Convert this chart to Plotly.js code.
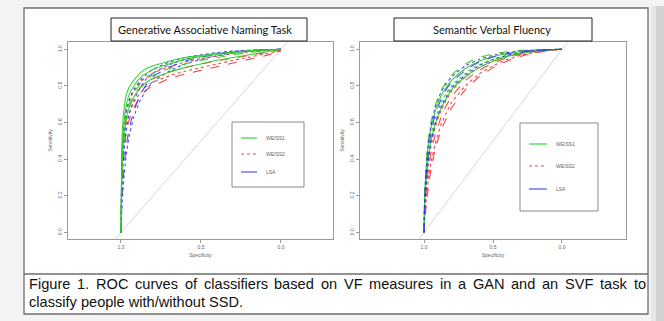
<!DOCTYPE html>
<html>
<head>
<meta charset="utf-8">
<script src="https://cdn.plot.ly/plotly-3.0.1.min.js"></script>
<style>html,body{margin:0;padding:0;background:#f3f3f3;}#chart{width:664px;height:321px;}</style>
</head>
<body>
<div id="chart"></div>
<script>
// Specificity grid shared by all curves
const specificity = [1.0, 0.995, 0.99, 0.98, 0.97, 0.95, 0.92, 0.88, 0.84, 0.8, 0.7, 0.6, 0.5, 0.4, 0.3, 0.2, 0.1, 0.0];

// Generative Associative Naming task (left panel) sensitivities
const ganWeiss1 = [
  [0, 0.45, 0.58, 0.68, 0.74, 0.79, 0.83, 0.87, 0.895, 0.91, 0.935, 0.955, 0.967, 0.977, 0.985, 0.992, 0.997, 1.0],
  [0, 0.38, 0.50, 0.61, 0.68, 0.75, 0.80, 0.845, 0.87, 0.89, 0.92, 0.945, 0.96, 0.972, 0.982, 0.99, 0.996, 1.0],
  [0, 0.30, 0.42, 0.55, 0.62, 0.70, 0.76, 0.81, 0.84, 0.86, 0.895, 0.92, 0.94, 0.955, 0.97, 0.982, 0.992, 1.0],
  [0, 0.28, 0.40, 0.52, 0.60, 0.68, 0.74, 0.79, 0.82, 0.84, 0.875, 0.90, 0.92, 0.94, 0.955, 0.97, 0.985, 1.0]
];
const ganWeiss2 = [
  [0, 0.35, 0.47, 0.58, 0.65, 0.72, 0.77, 0.82, 0.85, 0.87, 0.905, 0.93, 0.95, 0.963, 0.975, 0.985, 0.993, 1.0],
  [0, 0.30, 0.42, 0.54, 0.61, 0.68, 0.74, 0.79, 0.82, 0.84, 0.875, 0.90, 0.92, 0.937, 0.952, 0.967, 0.982, 0.995],
  [0, 0.26, 0.37, 0.49, 0.57, 0.65, 0.71, 0.76, 0.80, 0.82, 0.855, 0.88, 0.90, 0.92, 0.94, 0.957, 0.975, 0.99],
  [0, 0.22, 0.33, 0.45, 0.53, 0.61, 0.68, 0.74, 0.78, 0.80, 0.84, 0.865, 0.885, 0.905, 0.925, 0.945, 0.965, 0.99]
];
const ganLSA = [
  [0, 0.30, 0.42, 0.55, 0.63, 0.72, 0.78, 0.83, 0.865, 0.89, 0.93, 0.955, 0.97, 0.982, 0.99, 0.995, 0.998, 1.0],
  [0, 0.22, 0.33, 0.45, 0.54, 0.64, 0.72, 0.79, 0.84, 0.87, 0.915, 0.945, 0.965, 0.978, 0.988, 0.994, 0.998, 1.0],
  [0, 0.15, 0.24, 0.36, 0.45, 0.56, 0.66, 0.75, 0.81, 0.85, 0.90, 0.935, 0.957, 0.973, 0.985, 0.993, 0.998, 1.0],
  [0, 0.12, 0.20, 0.31, 0.40, 0.52, 0.63, 0.72, 0.78, 0.82, 0.88, 0.92, 0.945, 0.965, 0.98, 0.99, 0.997, 1.0]
];

// Semantic Verbal Fluency task (right panel) sensitivities
const svfWeiss1 = [
  [0, 0.22, 0.30, 0.42, 0.50, 0.60, 0.69, 0.77, 0.82, 0.86, 0.92, 0.955, 0.975, 0.987, 0.994, 0.997, 0.999, 1.0],
  [0, 0.20, 0.28, 0.39, 0.47, 0.57, 0.66, 0.74, 0.79, 0.83, 0.895, 0.935, 0.96, 0.976, 0.987, 0.994, 0.998, 1.0],
  [0, 0.18, 0.25, 0.35, 0.43, 0.53, 0.62, 0.70, 0.76, 0.80, 0.87, 0.915, 0.945, 0.965, 0.98, 0.99, 0.997, 1.0],
  [0, 0.15, 0.22, 0.32, 0.40, 0.50, 0.59, 0.67, 0.73, 0.78, 0.85, 0.90, 0.935, 0.96, 0.977, 0.988, 0.996, 1.0]
];
const svfWeiss2 = [
  [0, 0.15, 0.21, 0.30, 0.37, 0.47, 0.57, 0.66, 0.72, 0.77, 0.85, 0.90, 0.935, 0.96, 0.977, 0.989, 0.996, 1.0],
  [0, 0.11, 0.17, 0.26, 0.33, 0.43, 0.53, 0.62, 0.69, 0.74, 0.83, 0.885, 0.925, 0.953, 0.973, 0.987, 0.995, 1.0],
  [0, 0.08, 0.13, 0.21, 0.28, 0.38, 0.48, 0.58, 0.65, 0.71, 0.80, 0.865, 0.91, 0.943, 0.967, 0.983, 0.994, 1.0],
  [0, 0.06, 0.10, 0.18, 0.24, 0.34, 0.45, 0.55, 0.62, 0.68, 0.78, 0.85, 0.90, 0.935, 0.962, 0.98, 0.993, 1.0]
];
const svfLSA = [
  [0, 0.20, 0.28, 0.40, 0.48, 0.58, 0.68, 0.76, 0.81, 0.85, 0.91, 0.945, 0.968, 0.982, 0.991, 0.996, 0.999, 1.0],
  [0, 0.17, 0.24, 0.35, 0.43, 0.54, 0.64, 0.72, 0.78, 0.82, 0.885, 0.93, 0.958, 0.975, 0.987, 0.994, 0.998, 1.0],
  [0, 0.13, 0.20, 0.30, 0.38, 0.49, 0.59, 0.68, 0.74, 0.79, 0.86, 0.91, 0.945, 0.967, 0.982, 0.991, 0.997, 1.0]
];

const diagSpec = [1.1, -0.1];
const diagSens = [-0.1, 1.1];

const legendLabels = ['WEISS1', 'WEISS2', 'LSA'];
const panelTitles = ['Generative Associative Naming Task', 'Semantic Verbal Fluency'];
const yTicks = [0, 0.2, 0.4, 0.6, 0.8, 1.0];
const yTickText = ['0.0', '0.2', '0.4', '0.6', '0.8', '1.0'];
const xTicks = [1.0, 0.5, 0.0];
const xTickText = ['1.0', '0.5', '0.0'];
const caption1 = 'Figure 1. ROC curves of classifiers based on VF measures in a GAN and an SVF task to';
const caption2 = 'classify people with/without SSD.';

const W = 664, H = 321;
const px = v => v / W;
const py = v => 1 - v / H;

const GREEN = 'rgba(40,205,40,0.9)';
const RED = 'rgba(240,40,40,0.85)';
const BLUE = 'rgba(50,50,240,0.85)';

const traces = [];
function addSet(sets, color, dashes, xa, ya) {
  sets.forEach((s, i) => {
    traces.push({x: specificity, y: s, type: 'scatter', mode: 'lines', xaxis: xa, yaxis: ya,
      line: {color: color, width: 1.1, dash: dashes[i % dashes.length], shape: 'spline', smoothing: 0.6},
      hoverinfo: 'skip', showlegend: false});
  });
}
traces.push({x: diagSpec, y: diagSens, type: 'scatter', mode: 'lines', xaxis: 'x', yaxis: 'y', line: {color: '#d6d6d6', width: 1}, showlegend: false, hoverinfo: 'skip'});
traces.push({x: diagSpec, y: diagSens, type: 'scatter', mode: 'lines', xaxis: 'x2', yaxis: 'y2', line: {color: '#d6d6d6', width: 1}, showlegend: false, hoverinfo: 'skip'});

addSet(ganWeiss2, RED, ['dot', 'dash', 'dot', 'dash'], 'x', 'y');
addSet(ganLSA, BLUE, ['dot', 'dot', 'dash', 'dot'], 'x', 'y');
addSet(ganWeiss1, GREEN, ['solid', 'solid', 'dash', 'solid'], 'x', 'y');

addSet(svfWeiss2, RED, ['dot', 'dash', 'dot', 'dash'], 'x2', 'y2');
addSet(svfWeiss1, GREEN, ['dash', 'solid', 'dot', 'solid'], 'x2', 'y2');
addSet(svfLSA, BLUE, ['dot', 'dash', 'dot'], 'x2', 'y2');

const smallFont = {family: 'Liberation Sans, Arial, sans-serif', size: 5, color: '#666'};
function xAxis(domain, range, anchor) {
  return {domain: domain, range: range, anchor: anchor, tickvals: xTicks, ticktext: xTickText,
    showgrid: false, zeroline: false, showline: true, mirror: true, linecolor: '#9a9a9a', linewidth: 1,
    ticks: 'outside', ticklen: 3, tickcolor: '#9a9a9a', tickfont: smallFont,
    title: {text: 'Specificity', font: smallFont, standoff: 4}};
}
function yAxis(domain, anchor) {
  return {domain: domain, range: [-0.036, 1.04], anchor: anchor, tickvals: yTicks, ticktext: yTickText, tickangle: -90,
    showgrid: false, zeroline: false, showline: true, mirror: true, linecolor: '#9a9a9a', linewidth: 1,
    ticks: 'outside', ticklen: 3, tickcolor: '#9a9a9a', tickfont: smallFont,
    title: {text: 'Sensitivity', font: smallFont, standoff: 4}};
}

const shapes = [
  {type: 'rect', xref: 'paper', yref: 'paper', x0: px(651), x1: px(656), y0: 0, y1: py(6), fillcolor: '#e6e6e6', line: {width: 0}, layer: 'below'},
  {type: 'rect', xref: 'paper', yref: 'paper', x0: px(656), x1: 1, y0: 0, y1: py(6), fillcolor: '#d2d2d2', line: {width: 0}, layer: 'below'},
  {type: 'rect', xref: 'paper', yref: 'paper', x0: px(24), x1: px(648), y0: py(314), y1: py(8), fillcolor: '#ffffff', line: {color: '#6e6e6e', width: 1.3}, layer: 'below'},
  {type: 'line', xref: 'paper', yref: 'paper', x0: px(24), x1: px(648), y0: py(274), y1: py(274), line: {color: '#6e6e6e', width: 1.3}},
  {type: 'rect', xref: 'paper', yref: 'paper', x0: px(111), x1: px(307), y0: py(41), y1: py(18), fillcolor: '#ffffff', line: {color: '#222', width: 1}},
  {type: 'rect', xref: 'paper', yref: 'paper', x0: px(394), x1: px(592), y0: py(41), y1: py(18), fillcolor: '#ffffff', line: {color: '#222', width: 1}},
  {type: 'rect', xref: 'paper', yref: 'paper', x0: px(232), x1: px(304), y0: py(187), y1: py(122), fillcolor: '#ffffff', line: {color: '#8a8a8a', width: 1}},
  {type: 'rect', xref: 'paper', yref: 'paper', x0: px(520), x1: px(598), y0: py(211), y1: py(123), fillcolor: '#ffffff', line: {color: '#8a8a8a', width: 1}}
];
const annotations = [];
const legColors = [GREEN, RED, BLUE];
const legDash = ['solid', 'dot', 'solid'];
const legL = [138, 154, 172];
const legR = [144, 166, 189];
legendLabels.forEach((lab, i) => {
  shapes.push({type: 'line', xref: 'paper', yref: 'paper', x0: px(241), x1: px(257), y0: py(legL[i]), y1: py(legL[i]), line: {color: legColors[i], width: 1.2, dash: legDash[i]}});
  shapes.push({type: 'line', xref: 'paper', yref: 'paper', x0: px(529), x1: px(547), y0: py(legR[i]), y1: py(legR[i]), line: {color: legColors[i], width: 1.2, dash: legDash[i]}});
  annotations.push({xref: 'paper', yref: 'paper', x: px(264), y: py(legL[i]), xanchor: 'left', yanchor: 'middle', text: lab, showarrow: false, font: smallFont});
  annotations.push({xref: 'paper', yref: 'paper', x: px(554), y: py(legR[i]), xanchor: 'left', yanchor: 'middle', text: lab, showarrow: false, font: smallFont});
});
const titleFont = {family: 'Lato, Open Sans, sans-serif', size: 11, color: '#111'};
annotations.push({xref: 'paper', yref: 'paper', x: px(205), y: py(29.5), xanchor: 'center', yanchor: 'middle', text: panelTitles[0], showarrow: false, font: titleFont});
annotations.push({xref: 'paper', yref: 'paper', x: px(492), y: py(29.5), xanchor: 'center', yanchor: 'middle', text: panelTitles[1], showarrow: false, font: titleFont});

// Caption: first line justified across the box width
const capFontSize = 14.6;
const capFont = {family: 'Liberation Sans, Arial, sans-serif', size: capFontSize, color: '#111'};
const cv = document.createElement('canvas').getContext('2d');
cv.font = capFontSize + 'px "Liberation Sans"';
const words = caption1.split(' ');
const widths = words.map(w => cv.measureText(w).width);
const lineStart = 28, lineEnd = 645;
const gap = (lineEnd - lineStart - widths.reduce((a, b) => a + b, 0)) / (words.length - 1);
let cx = lineStart;
words.forEach((w, i) => {
  annotations.push({xref: 'paper', yref: 'paper', x: px(cx), y: py(284), xanchor: 'left', yanchor: 'middle', text: w, showarrow: false, font: capFont, borderpad: 0});
  cx += widths[i] + gap;
});
annotations.push({xref: 'paper', yref: 'paper', x: px(lineStart), y: py(302), xanchor: 'left', yanchor: 'middle', text: caption2, showarrow: false, font: capFont, borderpad: 0});

const layout = {
  width: W, height: H, margin: {l: 0, r: 0, t: 0, b: 0},
  paper_bgcolor: '#f3f3f3', plot_bgcolor: 'rgba(0,0,0,0)', showlegend: false,
  xaxis: xAxis([px(68), px(333)], [1.331, -0.325], 'y'),
  yaxis: yAxis([py(239), py(42)], 'x'),
  xaxis2: xAxis([px(360), px(626)], [1.464, -0.464], 'y2'),
  yaxis2: yAxis([py(239), py(42)], 'x2'),
  shapes: shapes, annotations: annotations
};
Plotly.newPlot('chart', traces, layout, {displayModeBar: false, staticPlot: true});
</script>
</body>
</html>
